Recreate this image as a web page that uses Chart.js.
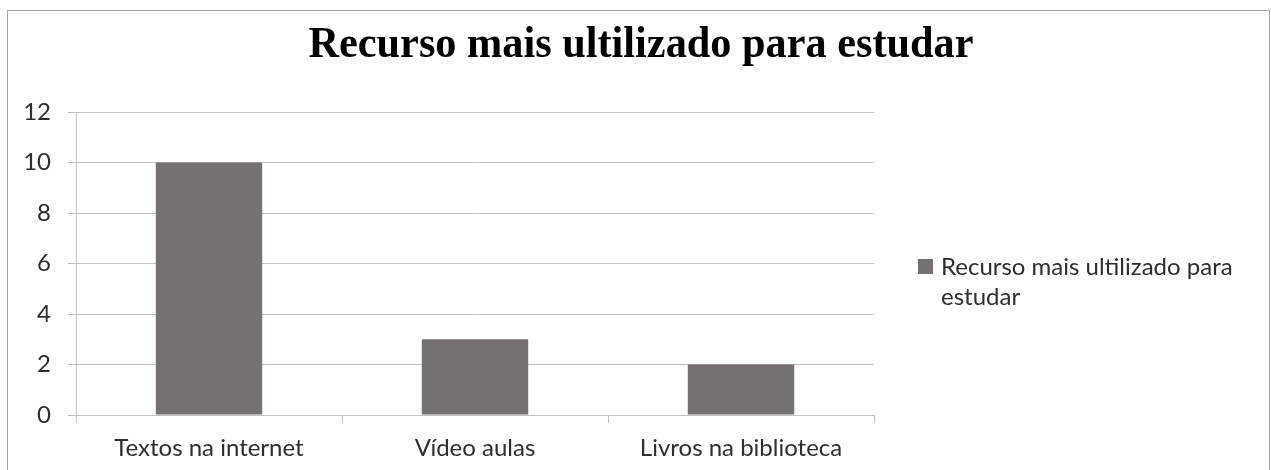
<!DOCTYPE html>
<html>
<head>
<meta charset="utf-8">
<script src="https://cdn.jsdelivr.net/npm/chart.js@4.4.0/dist/chart.umd.min.js"></script>
<style>
  html, body { margin: 0; padding: 0; background: #fff; }
  #wrap { width: 1271px; height: 470px; }
</style>
</head>
<body>
<div id="wrap"><canvas id="chart" width="1271" height="470"></canvas></div>
<script>
// --- data ---
const chartTitle = 'Recurso mais ultilizado para estudar';
const seriesName = 'Recurso mais ultilizado para estudar';
const categories = ['Textos na internet', 'Vídeo aulas', 'Livros na biblioteca'];
const values = [10, 3, 2];
const yTicks = [0, 2, 4, 6, 8, 10, 12];

const barColor = '#767171';
const textColor = '#2e2e2e';
const gridColor = '#c0c0c0';
const labelFont = 'Lato, Carlito, Calibri, sans-serif';

// outer frame like the office chart border
const framePlugin = {
    id: 'frame',
    beforeDraw(chart) {
        const ctx = chart.ctx;
        ctx.save();
        ctx.fillStyle = '#fff';
        ctx.fillRect(0, 0, chart.width, chart.height);
        ctx.strokeStyle = '#a6a6a6';
        ctx.lineWidth = 1;
        ctx.strokeRect(7.5, 10.5, 1262, 480);
        ctx.restore();
    }
};

// title centred on the whole frame, slightly condensed
const titlePlugin = {
    id: 'bigTitle',
    afterDraw(chart) {
        const ctx = chart.ctx;
        ctx.save();
        ctx.font = 'bold 45px "Liberation Serif", "Times New Roman", serif';
        ctx.fillStyle = '#000';
        ctx.textAlign = 'center';
        ctx.textBaseline = 'alphabetic';
        ctx.translate(641, 57);
        ctx.scale(0.94, 1);
        ctx.fillText(chartTitle, 0, 0);
        ctx.restore();
    }
};

// legend on the right, wrapped on two lines
const sideLegend = {
    id: 'sideLegend',
    afterDraw(chart) {
        const ctx = chart.ctx;
        const ds = chart.data.datasets[0];
        const x = 918, y = 259, box = 15, maxW = 315, lineH = 30;
        ctx.save();
        ctx.fillStyle = ds.backgroundColor;
        ctx.fillRect(x, y, box, box);
        ctx.font = '24px ' + labelFont;
        ctx.fillStyle = textColor;
        ctx.textBaseline = 'alphabetic';
        const words = ds.label.split(' ');
        const lines = [];
        let cur = '';
        words.forEach(w => {
            const test = cur ? cur + ' ' + w : w;
            if (ctx.measureText(test).width > maxW && cur) {
                lines.push(cur);
                cur = w;
            } else {
                cur = test;
            }
        });
        if (cur) lines.push(cur);
        lines.forEach((l, i) => ctx.fillText(l, x + 23, y + 16 + i * lineH));
        ctx.restore();
    }
};

new Chart(document.getElementById('chart'), {
    type: 'bar',
    data: {
        labels: categories,
        datasets: [{
            label: seriesName,
            data: values,
            backgroundColor: barColor,
            borderWidth: 0,
            barPercentage: 0.4,
            categoryPercentage: 1.0
        }]
    },
    options: {
        responsive: false,
        animation: false,
        layout: { padding: { left: 0, right: 397, top: 112, bottom: 0 } },
        plugins: {
            legend: { display: false },
            tooltip: { enabled: false },
            title: { display: false }
        },
        scales: {
            x: {
                grid: {
                    display: true,
                    drawOnChartArea: false,
                    drawTicks: true,
                    tickLength: 8,
                    color: gridColor,
                    offset: true
                },
                border: { display: true, color: gridColor },
                ticks: {
                    color: textColor,
                    font: { family: labelFont, size: 24 },
                    padding: 11,
                    maxRotation: 0
                },
                afterFit(scale) { scale.height = 55; }
            },
            y: {
                min: 0,
                max: 12,
                afterBuildTicks(scale) {
                    scale.ticks = yTicks.map(v => ({ value: v }));
                },
                grid: {
                    color: gridColor,
                    tickLength: 8,
                    drawTicks: true
                },
                border: { display: true, color: gridColor },
                ticks: {
                    color: textColor,
                    font: { family: labelFont, size: 24 },
                    padding: 17
                },
                afterFit(scale) { scale.width = 76; }
            }
        }
    },
    plugins: [framePlugin, titlePlugin, sideLegend]
});
</script>
</body>
</html>
